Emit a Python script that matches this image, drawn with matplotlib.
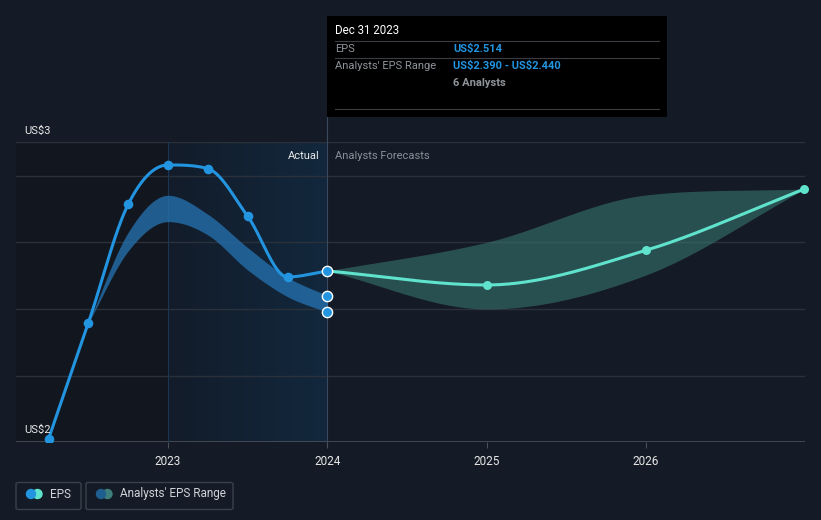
import numpy as np
import matplotlib
matplotlib.use("Agg")
import matplotlib.pyplot as plt
from matplotlib.patches import Rectangle, FancyBboxPatch, Ellipse
from matplotlib.colors import LinearSegmentedColormap

plt.rcParams['font.family'] = ['Roboto', 'DejaVu Sans']

# actual EPS (quarterly points, trailing)
eps_x = [2022.25, 2022.5, 2022.75, 2023.0, 2023.25, 2023.5, 2023.75, 2024.0]
eps_y = [2.010, 2.358, 2.714, 2.832, 2.821, 2.678, 2.496, 2.514]

# past analysts' range band
past_x = [2022.5, 2022.75, 2023.0, 2023.25, 2023.5, 2023.75, 2024.0]
past_hi = [2.358, 2.630, 2.741, 2.684, 2.584, 2.495, 2.440]
past_lo = [2.358, 2.574, 2.662, 2.622, 2.517, 2.437, 2.390]

# forecast EPS
fc_x = [2024.0, 2025.0, 2026.0, 2026.99]
fc_y = [2.514, 2.472, 2.576, 2.759]
fc_hi = [2.514, 2.600, 2.742, 2.760]
fc_lo = [2.514, 2.400, 2.502, 2.758]

years = [2023, 2024, 2025, 2026]
grid_vals = [2.2, 2.4, 2.6, 2.8, 2.9]

BG = '#151b26'
BLUE = '#2394df'
TEAL = '#5fe3cc'


def monotone(xs, ys, n=60):
    # monotone cubic (like d3 curveMonotoneX) for drawing smooth lines
    xs = np.asarray(xs, float)
    ys = np.asarray(ys, float)
    h = np.diff(xs)
    d = np.diff(ys) / h
    m = np.zeros(len(xs))
    m[0], m[-1] = d[0], d[-1]
    for i in range(1, len(xs) - 1):
        if d[i - 1] * d[i] <= 0:
            m[i] = 0
        else:
            m[i] = (h[i - 1] * d[i] + h[i] * d[i - 1]) / (h[i - 1] + h[i])
            lim = 3 * min(abs(d[i - 1]), abs(d[i]))
            m[i] = np.sign(m[i]) * min(abs(m[i]), lim)
    ox, oy = [], []
    for i in range(len(xs) - 1):
        t = np.linspace(0, 1, n)
        h00 = 2 * t**3 - 3 * t**2 + 1
        h10 = t**3 - 2 * t**2 + t
        h01 = -2 * t**3 + 3 * t**2
        h11 = t**3 - t**2
        ox.append(xs[i] + t * h[i])
        oy.append(h00 * ys[i] + h10 * h[i] * m[i] + h01 * ys[i + 1] + h11 * h[i] * m[i + 1])
    return np.concatenate(ox), np.concatenate(oy)


fig = plt.figure(figsize=(8.21, 5.20), dpi=100, facecolor=BG)
W, H = 821, 520
x0, x1 = 16, 805
ytop, ybot = 142.3, 442.3
ax = fig.add_axes([x0 / W, 1 - ybot / H, (x1 - x0) / W, (ybot - ytop) / H])
ax.set_facecolor(BG)
xmin = 2023 - (168 - x0) / 159.3
xmax = 2026 + (x1 - 646) / 159.3
ax.set_xlim(xmin, xmax)
ax.set_ylim(2.0, 2.9)
for s in ax.spines.values():
    s.set_visible(False)

# past region shading
ax.axvspan(xmin, 2023, color='#12161e', zorder=0, lw=0)
cmap = LinearSegmentedColormap.from_list('g', ['#121c2a', '#13283d'])
ax.imshow(np.linspace(0, 1, 200).reshape(1, -1), extent=[2023, 2024, 2.0, 2.9],
          aspect='auto', cmap=cmap, zorder=0.5)

for g in grid_vals:
    ax.axhline(g, color='#2a313b', lw=1, zorder=1)
ax.axhline(2.0, color='#4a5059', lw=1.2, zorder=1)
ax.axvline(2023, color='#1c3550', lw=0.8, zorder=1)
ax.plot([2024, 2024], [2.0, 2.975], color='#3a4a5c', lw=0.8, zorder=1, clip_on=False)

# bands
bx, bh = monotone(past_x, past_hi)
_, bl = monotone(past_x, past_lo)
ax.fill_between(bx, bl, bh, color='#2574b3', alpha=0.75, lw=0, zorder=2)
fx, fh = monotone(fc_x, fc_hi)
_, fl = monotone(fc_x, fc_lo)
ax.fill_between(fx, fl, fh, color='#3b7c76', alpha=0.55, lw=0, zorder=2)

# lines
ex, ey = monotone(eps_x, eps_y)
ax.plot(ex, ey, color=BLUE, lw=2.2, zorder=3, solid_capstyle='round')
cx, cy = monotone(fc_x, fc_y)
ax.plot(cx, cy, color=TEAL, lw=2.2, zorder=3, solid_capstyle='round')

ax.scatter(eps_x[:-1], eps_y[:-1], s=48, color=BLUE, zorder=4, lw=0)
ax.scatter(fc_x[1:], fc_y[1:], s=42, color=TEAL, zorder=4, lw=0, clip_on=False)
ax.scatter([2024, 2024, 2024], [eps_y[-1], past_hi[-1], past_lo[-1]], s=55, color=BLUE,
           edgecolor='white', lw=1.0, zorder=5)

ax.set_xticks(years)
ax.set_xticklabels([str(y) for y in years], color='#e6e6e6', fontsize=8.5)
ax.tick_params(axis='x', length=4, color='#4a5059', pad=5)
ax.set_yticks([])

ax.text(2024 - 0.05, 2.86, 'Actual', color='#e8e8e8', fontsize=8, ha='right', va='center', zorder=6)
ax.text(2024 + 0.05, 2.86, 'Analysts Forecasts', color='#8a9099', fontsize=8, ha='left', va='center', zorder=6)

fig.text(24 / W, 1 - 131 / H, 'US\\$3', color='#e8e8e8', fontsize=8, va='center')
fig.text(24 / W, 1 - 430 / H, 'US\\$2', color='#e8e8e8', fontsize=8, va='center', zorder=10)

# tooltip
fig.patches.append(Rectangle((327 / W, 1 - 117 / H), 340 / W, 101 / H, transform=fig.transFigure,
                             facecolor='black', edgecolor='none', zorder=20))
for yy in [41, 58, 109]:
    fig.add_artist(plt.Line2D([335 / W, 659 / W], [1 - yy / H] * 2, color='#3a3d42', lw=0.8, zorder=21))
fig.text(335 / W, 1 - 31 / H, 'Dec 31 2023', color='white', fontsize=8.3, va='center', zorder=22)
fig.text(335 / W, 1 - 49 / H, 'EPS', color='#8f949b', fontsize=8, va='center', zorder=22)
fig.text(453 / W, 1 - 49 / H, 'US\\$2.514', color=BLUE, fontsize=8, va='center', weight='bold', zorder=22)
fig.text(335 / W, 1 - 66 / H, "Analysts' EPS Range", color='#8f949b', fontsize=8, va='center', zorder=22)
fig.text(453 / W, 1 - 66 / H, 'US\\$2.390 - US\\$2.440', color=BLUE, fontsize=8, va='center', weight='bold', zorder=22)
fig.text(453 / W, 1 - 83 / H, '6 Analysts', color='#8f949b', fontsize=8, va='center', weight='bold', zorder=22)

# legend
for (lx, lw_) in [(16, 65), (86, 147)]:
    fig.patches.append(FancyBboxPatch((lx / W, 1 - 509.5 / H), lw_ / W, 27 / H, transform=fig.transFigure,
                                      boxstyle='round,pad=0,rounding_size=0.003',
                                      facecolor='none', edgecolor='#3a414b', lw=1))
legend_items = [(31, 37.5, BLUE, TEAL, 50, 'EPS'), (101, 107.5, '#1f5f8f', '#3d7f7a', 120, "Analysts' EPS Range")]
for (ca, cb, c1, c2, tx, lab) in legend_items:
    fig.add_artist(Ellipse((cb / W, 1 - 494 / H), 9 / W, 9 / H, transform=fig.transFigure, color=c2, zorder=30))
    fig.add_artist(Ellipse((ca / W, 1 - 494 / H), 9 / W, 9 / H, transform=fig.transFigure, color=c1, zorder=31))
    fig.text(tx / W, 1 - 494 / H, lab, color='#d0d3d8', fontsize=8.5, va='center')

fig.savefig('out.png', dpi=100, facecolor=BG)
